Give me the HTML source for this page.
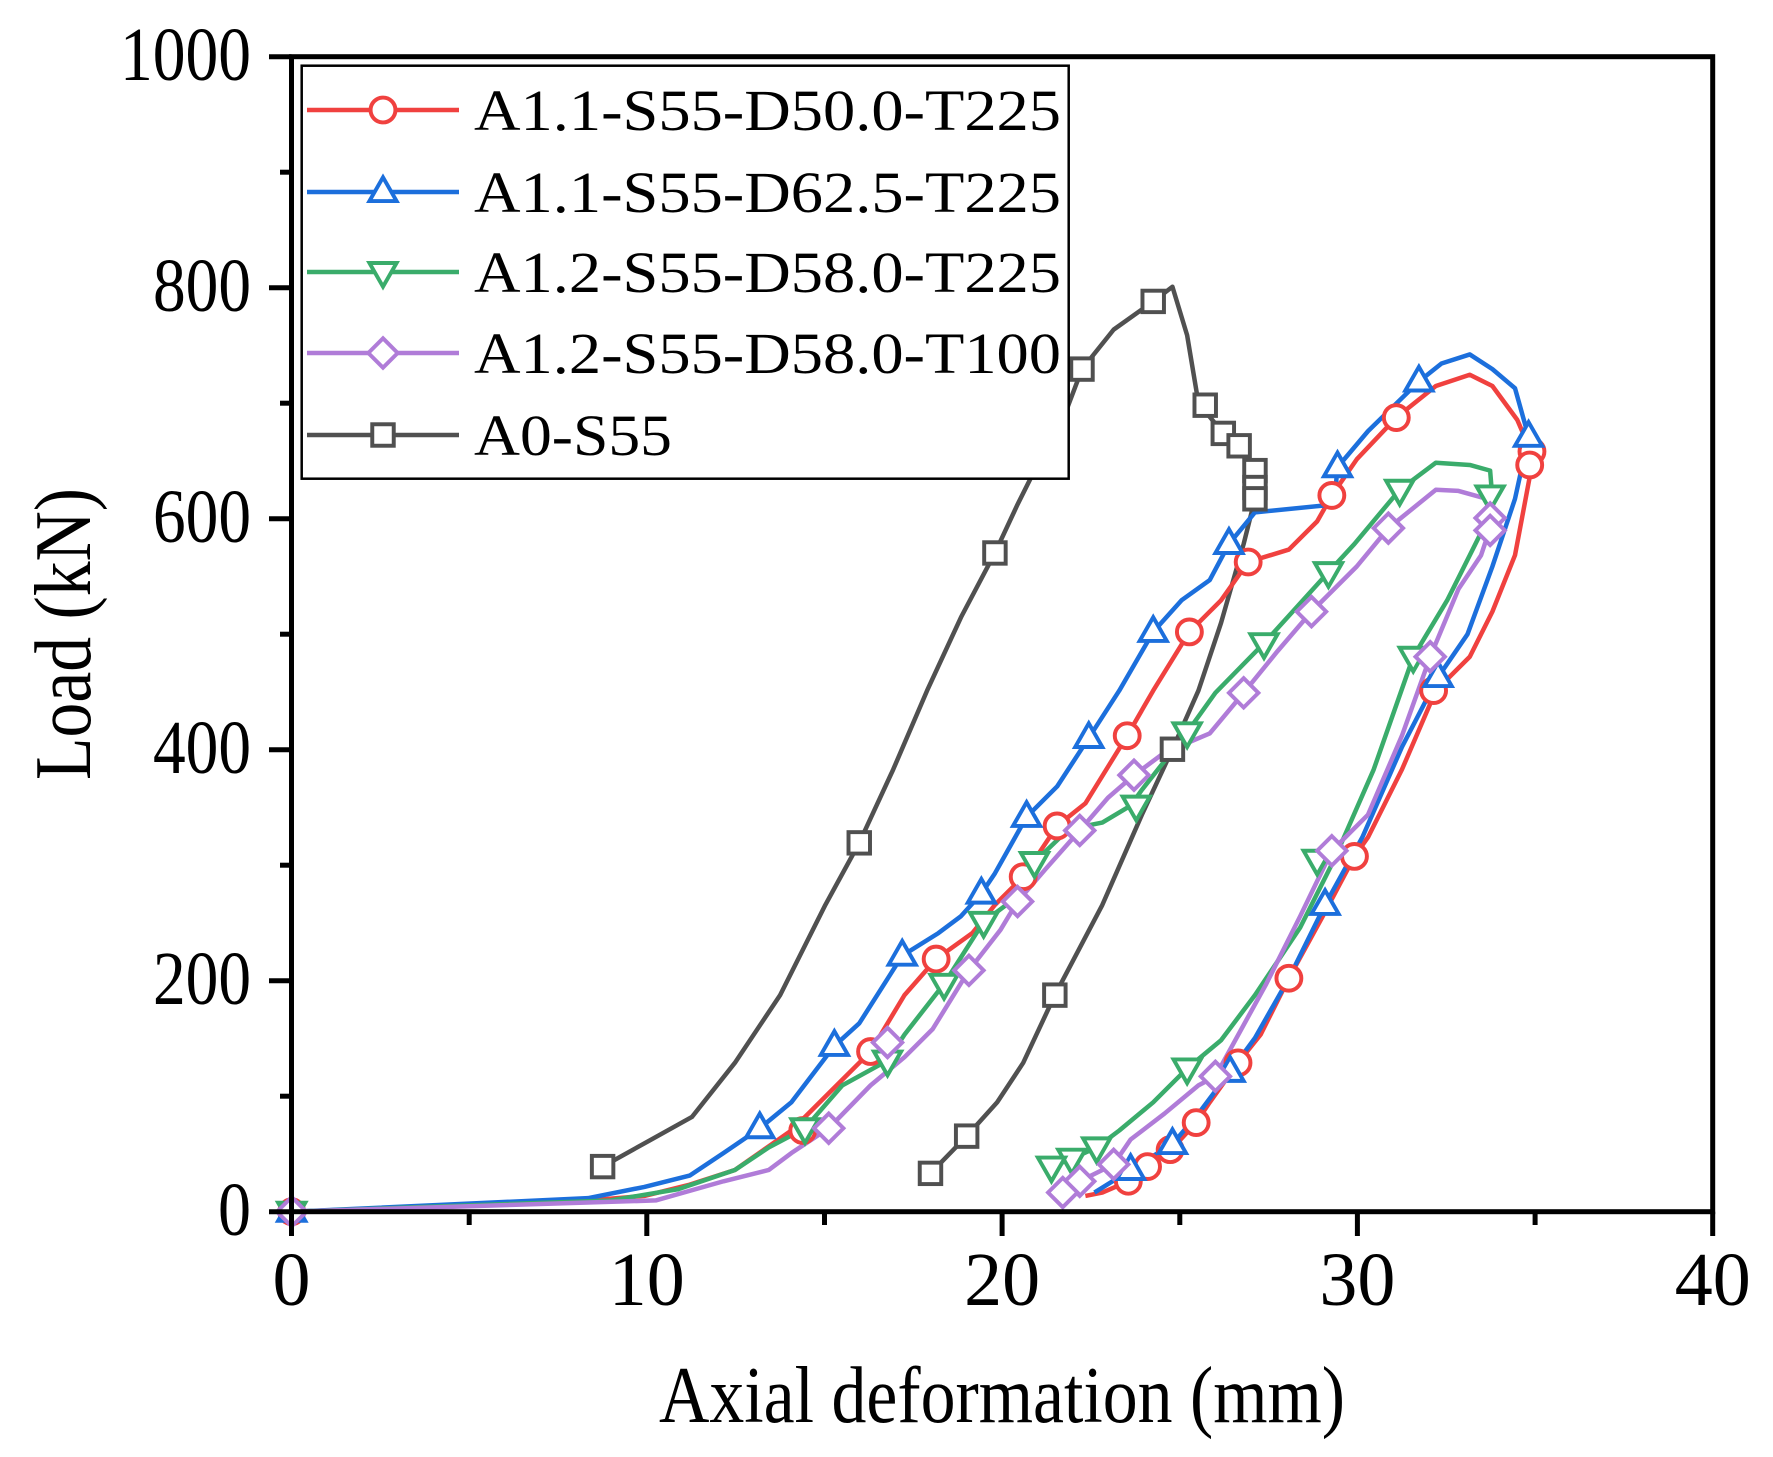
<!DOCTYPE html>
<html><head><meta charset="utf-8"><style>html,body{margin:0;padding:0;background:#fff}svg{display:block}</style></head>
<body>
<svg width="1773" height="1457" viewBox="0 0 1773 1457" xmlns="http://www.w3.org/2000/svg" font-family="'Liberation Serif', serif">
<rect width="1773" height="1457" fill="#fff"/>
<defs>
<g id="mc"><circle r="11" fill="#fff" stroke="#f0413f" stroke-width="3.5"/></g>
<g id="mt"><path d="M0,-13 L12,8 L-12,8 Z" fill="#fff" stroke="#1c6fdc" stroke-width="3.5"/></g>
<g id="mv"><path d="M0,13 L12,-8 L-12,-8 Z" fill="#fff" stroke="#3aac6b" stroke-width="3.5"/></g>
<g id="md"><path d="M0,-13 L13,0 L0,13 L-13,0 Z" fill="#fff" stroke="#b07cd8" stroke-width="3.5"/></g>
<g id="ms"><rect x="-9.5" y="-9.5" width="19" height="19" fill="#fff" stroke="#505050" stroke-width="3.5"/></g>
</defs>
<g transform="translate(0,2.5) scale(1.1306,1.128)" fill="none" stroke-width="4.5" stroke-linejoin="round">
<polyline vector-effect="non-scaling-stroke" stroke="#505050" points="533,1032 612,988 650,940 690,880 730,800 760,745 790,680 820,610 850,545 880,488 900,445 910,425 925,395 940,370 957,325 985,290 1020,265 1037,252 1050,295 1060,355 1082,382 1096,393 1110,420 1110,440 1100,480 1080,550 1060,610 1037,662 1010,720 975,800 933,880 905,940 882,975 855,1005 823,1038"/>
<polyline vector-effect="non-scaling-stroke" stroke="#f0413f" points="258,1072 520,1062 570,1058 610,1048 650,1035 700,1000 740,960 770,930 800,880 828,848 860,825 880,800 905,775 935,730 960,710 997,650 1020,610 1052,558 1080,530 1104,496 1140,485 1165,460 1178,437 1200,405 1235,368 1270,340 1300,330 1320,340 1342,370 1355,400 1355,410 1340,490 1320,540 1300,580 1270,610 1240,680 1210,740 1198,757 1170,810 1140,865 1115,915 1095,940 1070,975 1058,993 1035,1018 1015,1032 998,1045 975,1055 960,1058"/>
<polyline vector-effect="non-scaling-stroke" stroke="#1c6fdc" points="258,1072 520,1060 570,1050 610,1040 640,1020 672,998 700,975 738,925 760,905 798,845 830,825 850,810 868,790 880,772 908,722 935,695 963,652 990,610 1020,558 1045,530 1070,512 1087,480 1110,452 1180,445 1183,412 1210,380 1255,336 1275,320 1300,312 1320,325 1340,342 1352,385 1340,440 1320,500 1298,560 1272,598 1240,660 1205,740 1172,800 1140,865 1110,918 1088,948 1075,965 1060,985 1037,1012 1000,1035 968,1055"/>
<polyline vector-effect="non-scaling-stroke" stroke="#3aac6b" points="258,1072 540,1062 600,1052 650,1035 680,1015 712,998 745,960 785,938 800,915 835,870 870,815 890,800 915,762 945,733 975,727 1000,712 1010,698 1050,647 1075,612 1118,568 1175,505 1198,480 1238,432 1270,408 1300,410 1318,415 1320,440 1310,470 1300,490 1280,530 1250,580 1215,680 1180,760 1150,820 1110,880 1080,920 1050,945 1020,975 990,1000 970,1015 948,1025 930,1032"/>
<polyline vector-effect="non-scaling-stroke" stroke="#b07cd8" points="258,1072 580,1062 640,1045 680,1035 700,1020 733,998 770,960 800,935 825,910 857,858 885,822 900,797 925,768 955,734 980,705 1003,685 1030,665 1070,648 1100,612 1130,575 1160,540 1200,500 1228,466 1270,432 1290,433 1315,440 1320,460 1310,490 1290,520 1265,580 1240,650 1210,720 1178,752 1150,810 1120,870 1075,952 1060,960 1030,985 1000,1008 985,1030 955,1045 940,1055"/>
</g>
<g transform="translate(0,2.5) scale(1.1306,1.128)">
<g>
<use href="#ms" x="533" y="1032"/><use href="#ms" x="760" y="745"/><use href="#ms" x="880" y="488"/><use href="#ms" x="925" y="395"/><use href="#ms" x="957" y="325"/><use href="#ms" x="1020" y="265"/><use href="#ms" x="1066" y="357"/><use href="#ms" x="1082" y="382"/><use href="#ms" x="1096" y="393"/><use href="#ms" x="1110" y="415"/><use href="#ms" x="1110" y="430"/><use href="#ms" x="1110" y="440"/><use href="#ms" x="1037" y="662"/><use href="#ms" x="933" y="880"/><use href="#ms" x="855" y="1005"/><use href="#ms" x="823" y="1038"/>
</g>
<g>
<use href="#mc" x="710" y="1000"/><use href="#mc" x="770" y="930"/><use href="#mc" x="828" y="848"/><use href="#mc" x="905" y="775"/><use href="#mc" x="935" y="730"/><use href="#mc" x="997" y="650"/><use href="#mc" x="1052" y="558"/><use href="#mc" x="1104" y="496"/><use href="#mc" x="1178" y="437"/><use href="#mc" x="1235" y="368"/><use href="#mc" x="1355" y="398"/><use href="#mc" x="1353" y="410"/><use href="#mc" x="1268" y="610"/><use href="#mc" x="1198" y="757"/><use href="#mc" x="1140" y="865"/><use href="#mc" x="1095" y="940"/><use href="#mc" x="1058" y="993"/><use href="#mc" x="1035" y="1017"/><use href="#mc" x="1015" y="1032"/><use href="#mc" x="998" y="1045"/><use href="#mc" x="258" y="1072"/>
</g>
<g>
<use href="#mt" x="672" y="998"/><use href="#mt" x="738" y="925"/><use href="#mt" x="798" y="845"/><use href="#mt" x="868" y="790"/><use href="#mt" x="908" y="722"/><use href="#mt" x="963" y="652"/><use href="#mt" x="1020" y="558"/><use href="#mt" x="1087" y="480"/><use href="#mt" x="1183" y="412"/><use href="#mt" x="1255" y="336"/><use href="#mt" x="1352" y="385"/><use href="#mt" x="1272" y="598"/><use href="#mt" x="1172" y="800"/><use href="#mt" x="1088" y="948"/><use href="#mt" x="1037" y="1012"/><use href="#mt" x="1000" y="1035"/><use href="#mt" x="258" y="1072"/>
</g>
<g>
<use href="#mv" x="712" y="998"/><use href="#mv" x="785" y="938"/><use href="#mv" x="835" y="870"/><use href="#mv" x="870" y="815"/><use href="#mv" x="915" y="762"/><use href="#mv" x="1005" y="712"/><use href="#mv" x="1050" y="647"/><use href="#mv" x="1118" y="568"/><use href="#mv" x="1175" y="505"/><use href="#mv" x="1238" y="432"/><use href="#mv" x="1318" y="437"/><use href="#mv" x="1250" y="580"/><use href="#mv" x="1165" y="760"/><use href="#mv" x="1050" y="945"/><use href="#mv" x="970" y="1015"/><use href="#mv" x="948" y="1025"/><use href="#mv" x="930" y="1032"/><use href="#mv" x="258" y="1072"/>
</g>
<g>
<use href="#md" x="733" y="998"/><use href="#md" x="785" y="922"/><use href="#md" x="857" y="858"/><use href="#md" x="900" y="797"/><use href="#md" x="955" y="734"/><use href="#md" x="1003" y="685"/><use href="#md" x="1100" y="612"/><use href="#md" x="1160" y="540"/><use href="#md" x="1228" y="466"/><use href="#md" x="1318" y="457"/><use href="#md" x="1318" y="468"/><use href="#md" x="1265" y="580"/><use href="#md" x="1178" y="752"/><use href="#md" x="1075" y="952"/><use href="#md" x="985" y="1030"/><use href="#md" x="955" y="1045"/><use href="#md" x="940" y="1055"/><use href="#md" x="258" y="1072"/>
</g>
</g>
<rect x="291.5" y="56.7" width="1421.2" height="1155" fill="none" stroke="#000" stroke-width="5"/>
<g stroke="#000" stroke-width="5">
<line x1="269" y1="56.7" x2="291.5" y2="56.7"/><line x1="269" y1="287.7" x2="291.5" y2="287.7"/><line x1="269" y1="518.7" x2="291.5" y2="518.7"/><line x1="269" y1="749.7" x2="291.5" y2="749.7"/><line x1="269" y1="980.7" x2="291.5" y2="980.7"/><line x1="269" y1="1211.7" x2="291.5" y2="1211.7"/>
<line x1="280" y1="172.2" x2="291.5" y2="172.2"/><line x1="280" y1="403.2" x2="291.5" y2="403.2"/><line x1="280" y1="634.2" x2="291.5" y2="634.2"/><line x1="280" y1="865.2" x2="291.5" y2="865.2"/><line x1="280" y1="1096.2" x2="291.5" y2="1096.2"/>
<line x1="291.5" y1="1211.7" x2="291.5" y2="1236"/><line x1="646.8" y1="1211.7" x2="646.8" y2="1236"/><line x1="1002.1" y1="1211.7" x2="1002.1" y2="1236"/><line x1="1357.4" y1="1211.7" x2="1357.4" y2="1236"/><line x1="1712.7" y1="1211.7" x2="1712.7" y2="1236"/>
<line x1="469.2" y1="1211.7" x2="469.2" y2="1225"/><line x1="824.5" y1="1211.7" x2="824.5" y2="1225"/><line x1="1179.8" y1="1211.7" x2="1179.8" y2="1225"/><line x1="1535.1" y1="1211.7" x2="1535.1" y2="1225"/>
</g>
<g font-size="76" fill="#000" text-anchor="end">
<text x="251" y="80" textLength="131" lengthAdjust="spacingAndGlyphs">1000</text><text x="251" y="311" textLength="98" lengthAdjust="spacingAndGlyphs">800</text><text x="251" y="542" textLength="98" lengthAdjust="spacingAndGlyphs">600</text><text x="251" y="773" textLength="98" lengthAdjust="spacingAndGlyphs">400</text><text x="251" y="1004" textLength="98" lengthAdjust="spacingAndGlyphs">200</text><text x="251" y="1235" textLength="33" lengthAdjust="spacingAndGlyphs">0</text>
</g>
<g font-size="76" fill="#000" text-anchor="middle">
<text x="291.5" y="1305">0</text><text x="646.8" y="1305">10</text><text x="1002.1" y="1305">20</text><text x="1357.4" y="1305">30</text><text x="1712.7" y="1305">40</text>
</g>
<text x="1002" y="1422" font-size="80" text-anchor="middle" textLength="686" lengthAdjust="spacingAndGlyphs">Axial deformation (mm)</text>
<text transform="translate(90,634) rotate(-90)" font-size="80" text-anchor="middle" textLength="292" lengthAdjust="spacingAndGlyphs">Load (kN)</text>
<rect x="301.7" y="65.7" width="767" height="413" fill="#fff" stroke="#000" stroke-width="2.5"/>
<g stroke-width="4.5">
<line x1="307" y1="110" x2="459" y2="110" stroke="#f0413f"/><line x1="307" y1="192" x2="459" y2="192" stroke="#1c6fdc"/><line x1="307" y1="272" x2="459" y2="272" stroke="#3aac6b"/><line x1="307" y1="353" x2="459" y2="353" stroke="#b07cd8"/><line x1="307" y1="435" x2="459" y2="435" stroke="#505050"/>
</g>
<g transform="translate(383,110) scale(1.13)"><use href="#mc"/></g>
<g transform="translate(383,192) scale(1.13)"><use href="#mt"/></g>
<g transform="translate(383,272) scale(1.13)"><use href="#mv"/></g>
<g transform="translate(383,353) scale(1.13)"><use href="#md"/></g>
<g transform="translate(383,435) scale(1.13)"><use href="#ms"/></g>
<g font-size="58" fill="#000">
<text x="474" y="130" textLength="587" lengthAdjust="spacingAndGlyphs">A1.1-S55-D50.0-T225</text>
<text x="474" y="212" textLength="587" lengthAdjust="spacingAndGlyphs">A1.1-S55-D62.5-T225</text>
<text x="474" y="292" textLength="587" lengthAdjust="spacingAndGlyphs">A1.2-S55-D58.0-T225</text>
<text x="474" y="373" textLength="587" lengthAdjust="spacingAndGlyphs">A1.2-S55-D58.0-T100</text>
<text x="474" y="455" textLength="198" lengthAdjust="spacingAndGlyphs">A0-S55</text>
</g>
</svg>
</body></html>
